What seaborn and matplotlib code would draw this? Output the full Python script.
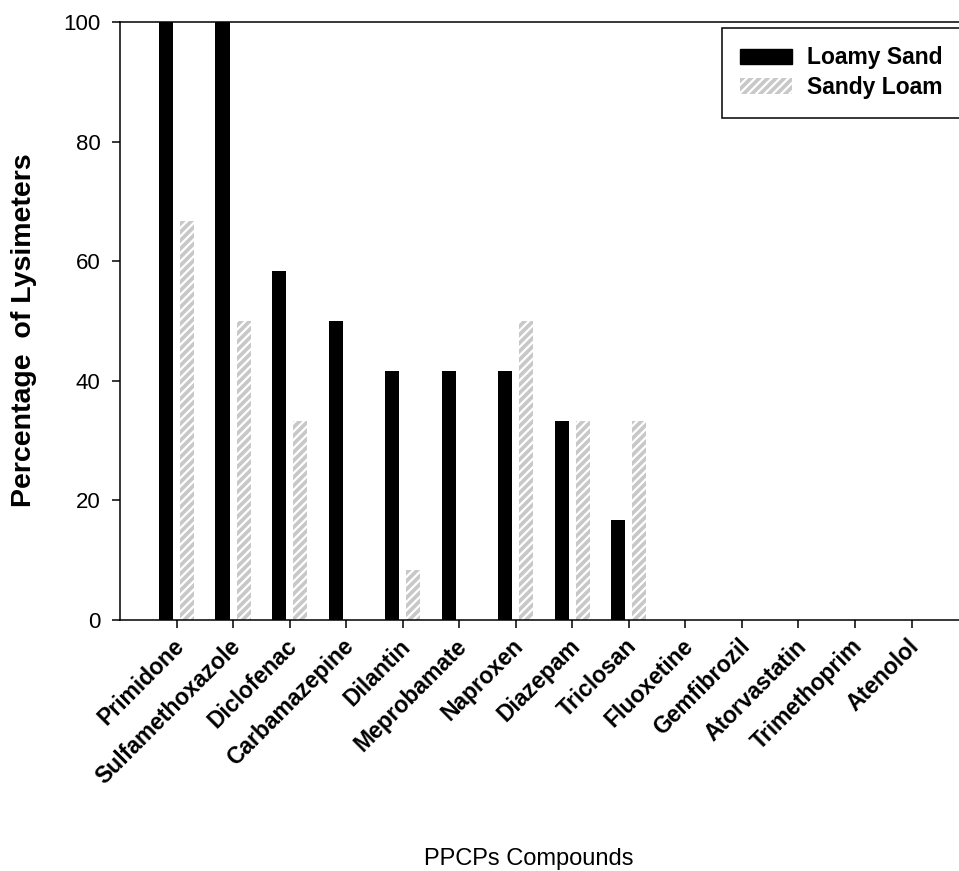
import matplotlib
matplotlib.use("Agg")
import matplotlib.pyplot as plt
from matplotlib.patches import Patch
from matplotlib.transforms import ScaledTranslation
import seaborn as sns
import pandas as pd

compounds = ["Primidone", "Sulfamethoxazole", "Diclofenac", "Carbamazepine", "Dilantin",
             "Meprobamate", "Naproxen", "Diazepam", "Triclosan", "Fluoxetine",
             "Gemfibrozil", "Atorvastatin", "Trimethoprim", "Atenolol"]
loamy_sand = [100, 100, 58.3, 50, 41.7, 41.7, 41.7, 33.3, 16.7, 0, 0, 0, 0, 0]
sandy_loam = [66.7, 50, 33.3, 0, 8.3, 0, 50, 33.3, 33.3, 0, 0, 0, 0, 0]
series = ["Loamy Sand", "Sandy Loam"]
yticks = [0, 20, 40, 60, 80, 100]

df = pd.DataFrame({
    "Compound": compounds * 2,
    "Value": loamy_sand + sandy_loam,
    "Soil": [series[0]] * len(compounds) + [series[1]] * len(compounds),
})

sns.set_style("ticks")
plt.rcParams["font.family"] = ["Liberation Sans", "DejaVu Sans"]
plt.rcParams["hatch.linewidth"] = 1.6
plt.rcParams["hatch.color"] = "white"
for k in ["text.color", "axes.labelcolor", "xtick.color", "ytick.color", "axes.edgecolor"]:
    plt.rcParams[k] = "black"

fig = plt.figure(figsize=(9.59, 8.71), dpi=100)
ax = fig.add_axes([0.1251, 0.2882, 0.8749, 0.6865])

sns.barplot(data=df, x="Compound", y="Value", hue="Soil", order=compounds,
            hue_order=series, palette=["black", "#c8c8c8"], width=0.745, gap=0.33,
            saturation=1, legend=False, ax=ax, linewidth=0)

n = len(compounds)
for i, p in enumerate(ax.patches[:2 * n]):
    if i >= n:
        p.set_hatch("////")
        p.set_edgecolor("white")
        p.set_linewidth(0)

ax.set_xlim(-1.0, 13.84)
ax.set_ylim(0, 100)
ax.set_yticks(yticks)
ax.set_yticklabels([str(t) for t in yticks], fontsize=16)
ax.set_xticks(range(n))
ax.set_xticklabels(compounds, rotation=45, ha="right", rotation_mode="anchor",
                   fontsize=16.5, fontweight="bold")
ax.tick_params(axis="both", direction="out", length=6, width=1.1, color="black")
ax.tick_params(axis="y", pad=8)
ax.tick_params(axis="x", pad=6)
shift = ScaledTranslation(-0.04, 0.02, fig.dpi_scale_trans)
for lab in ax.get_xticklabels():
    lab.set_transform(lab.get_transform() + shift)
ax.spines["right"].set_visible(False)
for s in ["left", "bottom", "top"]:
    ax.spines[s].set_linewidth(1.1)
    ax.spines[s].set_color("black")

ax.set_ylabel("Percentage  of Lysimeters", fontsize=20.5, fontweight="bold", va="center")
ax.yaxis.set_label_coords(-0.1144, 0.485)
ax.set_xlabel("PPCPs Compounds", fontsize=17, va="center")
ax.xaxis.set_label_coords(0.4875, -0.3997)

handles = [Patch(facecolor="black", edgecolor="black", label=series[0]),
           Patch(facecolor="#c8c8c8", edgecolor="white", hatch="////", linewidth=0, label=series[1])]
leg = ax.legend(handles=handles, loc="upper right", bbox_to_anchor=(1.0024, 0.99),
                prop={"weight": "bold", "size": 16.5}, frameon=True, fancybox=False,
                edgecolor="black", handlelength=2.27, handleheight=0.66,
                borderpad=0.8, labelspacing=0.3, handletextpad=0.65, borderaxespad=0)
leg.get_frame().set_linewidth(1.1)
leg.get_frame().set_alpha(1)

fig.savefig("out.png", dpi=100)
